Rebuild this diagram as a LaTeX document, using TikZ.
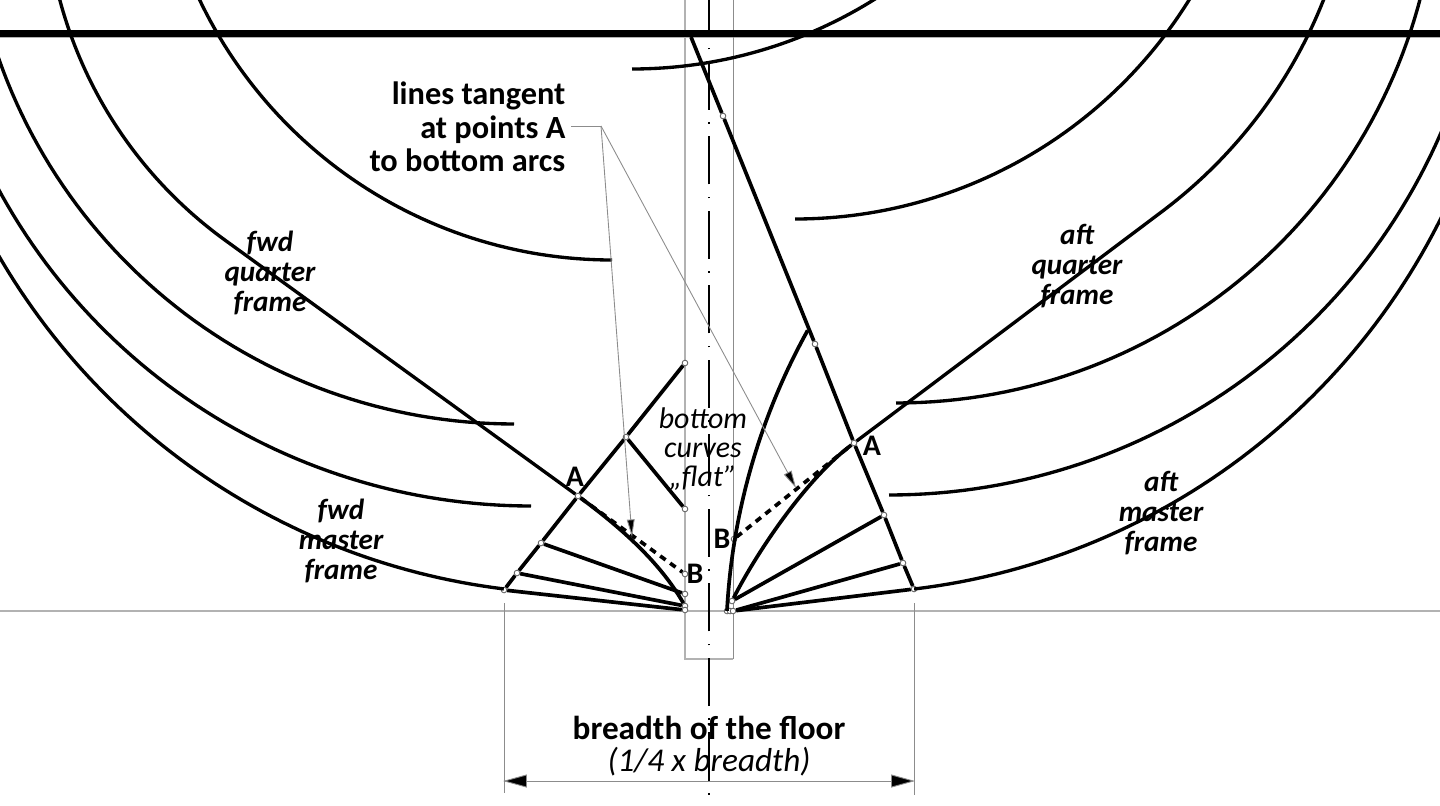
\documentclass[tikz,border=0pt]{standalone}
\usepackage{fontspec}
\setmainfont{Carlito}
\usetikzlibrary{arrows.meta}
\newcommand{\sweep}[5]{plot[domain=#4:#5,samples=60] ({#1+#3*cos(\x)},{#2+#3*sin(\x)})}
\tikzset{hull/.style={line width=.95pt},
 frameline/.style={line width=1.05pt},
 tangent/.style={line width=1.05pt,dash pattern=on 1.9pt off 1.6pt},
 thin grey/.style={draw=black!45,line width=.25pt},
 pale/.style={draw=black!30,line width=.3pt},
 knot/.style={circle,draw=black!60,fill=white,inner sep=0pt,minimum size=1.6pt,line width=.25pt},
 centre/.style={line width=.6pt,dash pattern=on .43pt off 3.55pt on 13.66pt off 3.55pt},
 boldlabel/.style={font=\bfseries\fontsize{9.2}{9.5}\selectfont,inner sep=0pt,align=right},
 framename/.style={font=\bfseries\itshape\fontsize{8.3}{8.45}\selectfont,inner sep=0pt,align=center},
 pointname/.style={font=\bfseries\fontsize{8.5}{9}\selectfont,inner sep=0pt},
 }

\begin{document}
\begin{tikzpicture}[x=.01cm,y=-.01cm]
        \clip (0,0) rectangle (1440,805);

        % guide lines
        \draw[pale] (0,611) -- (1440,611);
        \draw[pale] (0,37) -- (1440,37);
        \draw[pale] (685,0) -- (685,659) -- (733,659);
        \draw[thin grey] (733,659) -- (733,0);
        \draw[centre] (709,794.5) -- (709,0);
        \draw[line width=2pt] (0,33.5) -- (1440,33.5);

        % fwd side
        \node[knot] (fT) at (685,363) {};
        \node[knot] (fM) at (626,437) {};
        \node[knot] (fU) at (685,509) {};
        \node[knot] (fA) at (578,496) {};
        \node[knot] (fB) at (685,574) {};
        \node[knot] (fP2) at (541,543) {};
        \node[knot] (fP3) at (517,573) {};
        \node[knot] (fP4) at (504,590) {};
        \node[knot] (fO1) at (685,594) {};
        \node[knot] (fO2) at (685,606) {};
        \node[knot] (fO3) at (685,610) {};

        \draw[frameline] (fT) -- (fM) -- (fA) -- (fP2) -- (fP3) -- (fP4);
        \draw[frameline] (fM) -- (fU);
        \draw[frameline] (fP2) -- (fO1);
        \draw[frameline] (fP3) -- (fO2);
        \draw[frameline] (fP4) -- (fO3);
        \draw[tangent] (fA) -- (fB);
        \draw[frameline] (fA) .. controls (620,527) and (660,562) .. (fO2);

        \draw[hull] \sweep{612}{-197}{457}{90}{156};
        \draw[hull] \sweep{480.6}{-112.6}{435.6}{166}{125.9} -- (fA);
        \draw[hull] \sweep{514}{-122}{546}{90}{163};
        \draw[hull] \sweep{531}{-100}{606}{90}{154};
        \draw[hull] \sweep{586.7}{-86.2}{680.2}{97}{152};

        % aft side
        \node[knot] (aK) at (723,116) {};
        \node[knot] (aT) at (815,344) {};
        \node[knot] (aA) at (854,443) {};
        \node[knot] (aP2) at (884,515) {};
        \node[knot] (aP3) at (903,563) {};
        \node[knot] (aP4) at (914,589) {};
        \node[knot] (aB) at (734,539) {};
        \node[knot] (aO1) at (727,611) {};
        \node[knot] (aO2) at (730,611) {};
        \node[knot] (aO3) at (733,611) {};
        \node[knot] (aO4) at (732,601) {};
        \coordinate (aTop) at (691,37);

        \draw[frameline] (aTop) -- (aK) -- (aT) -- (aA) -- (aP2) -- (aP3) -- (aP4);
        \draw[frameline] (aO4) -- (aP2);
        \draw[frameline] (aO3) -- (aP3);
        \draw[frameline] (aO3) -- (aP4);
        \draw[tangent] (aB) -- (aA);
        \draw[frameline] \sweep{1377}{646}{651}{183.1}{209};
        \draw[frameline] (aO4) .. controls (757,552) and (806,479) .. (aA);

        \draw[hull] \sweep{632}{-388}{457}{90}{30};
        \draw[hull] \sweep{795}{-245}{464}{90}{30};
        \draw[hull] \sweep{867.5}{-180.7}{490.5}{20}{53} -- (aA);
        \draw[hull] \sweep{896}{-139}{542}{90}{13};
        \draw[hull] \sweep{889}{-106.7}{601.7}{90}{21};
        \draw[hull] \sweep{833.8}{-84.7}{678.5}{83.2}{24};

        % leaders
        \coordinate (lead) at (601,126);
        \draw[thin grey] (571,126) -- (lead);
        \draw[thin grey,-{Triangle[length=5pt,width=2.2pt,fill=black]}] (lead) -- (632,537);
        \draw[thin grey,-{Triangle[length=5pt,width=2.4pt,fill=black]}] (lead) -- (796,488);

        % breadth of the floor
        \coordinate (dimL) at (503,781);
        \coordinate (dimR) at (915,781);
        \draw[thin grey] (504,603) -- (504,793);
        \draw[thin grey] (914,603) -- (914,795);
        \draw[thin grey,{Triangle[length=6.8pt,width=3.7pt,fill=black]}-{Triangle[length=6.8pt,width=3.7pt,fill=black]}] (dimL) -- (dimR);

        % labels
        \node[boldlabel,anchor=east] (tangents) at (566,127) {lines tangent\\at points A\\to bottom arcs};
        \node[framename] (fq) at (270,273) {fwd\\quarter\\frame};
        \node[framename] (fm) at (341,541) {fwd\\master\\frame};
        \node[framename] (aq) at (1077,266) {aft\\quarter\\frame};
        \node[framename] (am) at (1161,513) {aft\\master\\frame};
        \node[font=\itshape\fontsize{8.5}{8.3}\selectfont,inner sep=0pt,align=center] (flat) at (703,449) {bottom\\curves\\„flat”};
        \node[pointname] (nfA) at (575,477) {A};
        \node[pointname] (nfB) at (695,574) {B};
        \node[pointname] (naA) at (872,446) {A};
        \node[pointname] (naB) at (722,539) {B};
        \node[font=\bfseries\fontsize{9.45}{9.5}\selectfont,inner sep=0pt] (floor) at (709,728) {breadth of the floor};
        \node[font=\itshape\fontsize{9.45}{9.5}\selectfont,inner sep=0pt] (quarter) at (709,762) {(1/4 x breadth)};
    \end{tikzpicture}
\end{document}
